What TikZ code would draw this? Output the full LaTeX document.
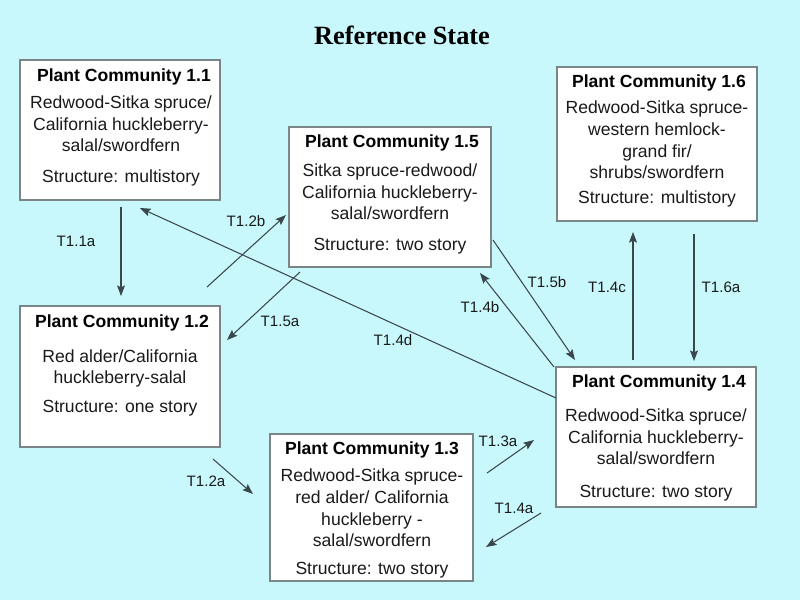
\documentclass[tikz,border=0pt]{standalone}
\usepackage{fontspec}
\setmainfont{Liberation Sans}
\newfontfamily\titlefont{Liberation Serif}
\usetikzlibrary{arrows.meta}
\definecolor{bg}{HTML}{C8F8FB}
\definecolor{boxline}{HTML}{7A8588}
\definecolor{arr}{HTML}{3A474C}
\definecolor{txt}{HTML}{1A1A1A}
\begin{document}
\begin{tikzpicture}[x=0.02cm, y=-0.02cm,
  box/.style={draw=boxline, fill=white, line width=0.7pt, rectangle, inner sep=0pt},
  ttl/.style={font=\fontsize{10}{12}\selectfont\bfseries, text=black, inner sep=0pt},
  body/.style={font=\fontsize{10}{12.3}\selectfont, text=txt, align=center, inner sep=0pt},
  lbl/.style={font=\fontsize{8.6}{10}\selectfont, text=txt, inner sep=0pt},
  conn/.style={draw=arr, line width=0.6pt, -{Stealth[length=6pt,width=4.5pt,inset=1pt]}}
]
\fill[bg] (0,0) rectangle (800,600);
\useasboundingbox (0,0) rectangle (800,600);

\node[font=\titlefont\fontsize{15}{18}\selectfont\bfseries, text=black] (title) at (402,35) {Reference State};

% boxes
\node[box, minimum width=4cm, minimum height=2.8cm] (p11) at (120,130) {};
\node[box, minimum width=4.04cm, minimum height=2.8cm] (p15) at (390,197) {};
\node[box, minimum width=4cm, minimum height=3.08cm] (p16) at (657,144) {};
\node[box, minimum width=4cm, minimum height=2.82cm] (p12) at (120,376.5) {};
\node[box, minimum width=4.06cm, minimum height=2.94cm] (p13) at (371.5,507.5) {};
\node[box, minimum width=4cm, minimum height=2.8cm] (p14) at (656,437) {};

% texts 1.1
\node[ttl] (p11t) at (124,77) {Plant Community 1.1};
\node[body] (p11b) at (121,124) {Redwood-Sitka spruce/\\California huckleberry-\\salal/swordfern};
\node[body] (p11s) at (121,178) {Structure: multistory};
% 1.5
\node[ttl] (p15t) at (392,143) {Plant Community 1.5};
\node[body] (p15b) at (390,192) {Sitka spruce-redwood/\\California huckleberry-\\salal/swordfern};
\node[body] (p15s) at (390,246) {Structure: two story};
% 1.6
\node[ttl] (p16t) at (659,83) {Plant Community 1.6};
\node[body] (p16b) at (657,140) {Redwood-Sitka spruce-\\western hemlock-\\grand fir/\\shrubs/swordfern};
\node[body] (p16s) at (657,199) {Structure: multistory};
% 1.2
\node[ttl] (p12t) at (122,323) {Plant Community 1.2};
\node[body] (p12b) at (120,368.5) {Red alder/California\\huckleberry-salal};
\node[body] (p12s) at (120,408) {Structure: one story};
% 1.3
\node[ttl] (p13t) at (372,450) {Plant Community 1.3};
\node[body] (p13b) at (372,508) {Redwood-Sitka spruce-\\red alder/ California\\huckleberry -\\salal/swordfern};
\node[body] (p13s) at (372,570) {Structure: two story};
% 1.4
\node[ttl] (p14t) at (659,383) {Plant Community 1.4};
\node[body] (p14b) at (656,437) {Redwood-Sitka spruce/\\California huckleberry-\\salal/swordfern};
\node[body] (p14s) at (656,493) {Structure: two story};

% coordinates for arrow ends
\coordinate (a11s) at (121,207);
\coordinate (a11e) at (121,296);
\coordinate (a12bs) at (207,287);
\coordinate (a12be) at (286,215);
\coordinate (a14ds) at (556,398);
\coordinate (a14de) at (140,208);
\coordinate (a15as) at (300,272);
\coordinate (a15ae) at (227,340);
\coordinate (a15bs) at (493,240);
\coordinate (a15be) at (575,360);
\coordinate (a14bs) at (554,367);
\coordinate (a14be) at (480,273);
\coordinate (a14cs) at (633,360);
\coordinate (a14ce) at (633,232);
\coordinate (a16as) at (694,234);
\coordinate (a16ae) at (694,361);
\coordinate (a13as) at (487,473);
\coordinate (a13ae) at (534,440);
\coordinate (a14as) at (541,513);
\coordinate (a14ae) at (486,547);
\coordinate (a12as) at (213,459);
\coordinate (a12ae) at (253,494);

\draw[conn] (a11s) -- (a11e);
\draw[conn] (a12bs) -- (a12be);
\draw[conn] (a14ds) -- (a14de);
\draw[conn] (a15as) -- (a15ae);
\draw[conn] (a15bs) -- (a15be);
\draw[conn] (a14bs) -- (a14be);
\draw[conn] (a14cs) -- (a14ce);
\draw[conn] (a16as) -- (a16ae);
\draw[conn] (a13as) -- (a13ae);
\draw[conn] (a14as) -- (a14ae);
\draw[conn] (a12as) -- (a12ae);

% labels
\node[lbl] (l11a) at (76,241) {T1.1a};
\node[lbl] (l12b) at (246,221) {T1.2b};
\node[lbl] (l14d) at (393,340) {T1.4d};
\node[lbl] (l15a) at (280,321) {T1.5a};
\node[lbl] (l15b) at (547,282) {T1.5b};
\node[lbl] (l14b) at (480,307) {T1.4b};
\node[lbl] (l14c) at (607,287) {T1.4c};
\node[lbl] (l16a) at (721,287) {T1.6a};
\node[lbl] (l13a) at (498,441) {T1.3a};
\node[lbl] (l14a) at (514,508) {T1.4a};
\node[lbl] (l12a) at (206,481) {T1.2a};
\end{tikzpicture}
\end{document}
